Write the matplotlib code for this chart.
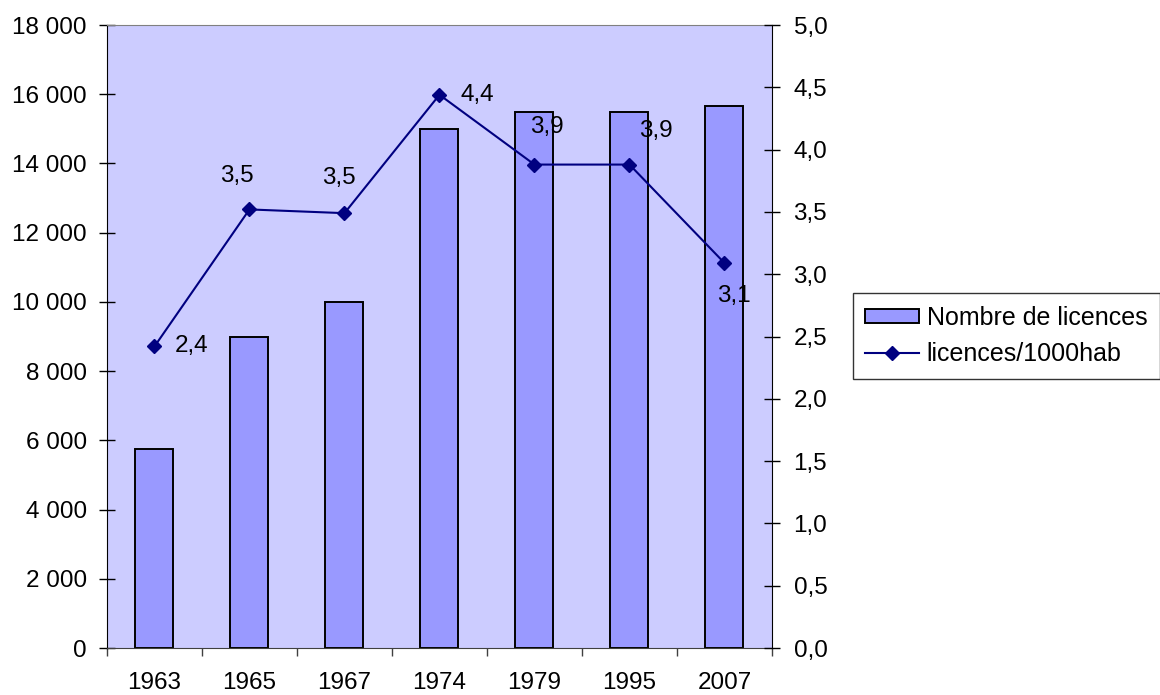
import numpy as np
import matplotlib.pyplot as plt
from matplotlib.ticker import FuncFormatter, FixedLocator

plt.rcParams['font.family'] = ['Liberation Sans', 'DejaVu Sans']

# Licences data per year
years = ['1963', '1965', '1967', '1974', '1979', '1995', '2007']
licences = [5750, 9000, 10000, 15000, 15500, 15500, 15650]
per_1000 = [2.42, 3.52, 3.49, 4.44, 3.88, 3.88, 3.09]
per_1000_labels = ['2,4', '3,5', '3,5', '4,4', '3,9', '3,9', '3,1']
# label offsets in points (dx, dy) relative to each marker
label_offsets = [(27, 0), (-9, 24), (-4, 25), (27, 0), (9, 27), (19, 24), (7, -24)]

FS = 17.5

fig = plt.figure(figsize=(11.6, 6.95), dpi=100)
ax = fig.add_axes([0.0922, 0.0676, 0.5733, 0.8964])
ax.set_facecolor('#CCCCFF')

x = np.arange(len(years))
ax.bar(x, licences, width=0.4, color='#9999FF', edgecolor='black',
       linewidth=1.4, label='Nombre de licences', zorder=2)
ax.set_xlim(-0.5, len(years) - 0.5)
ax.set_ylim(0, 18000)
ax.set_yticks(np.arange(0, 18001, 2000))
ax.yaxis.set_major_formatter(FuncFormatter(lambda v, p: f'{int(v):,}'.replace(',', ' ')))

# category ticks sit between bars, labels at bar centres
ax.set_xticks(np.arange(-0.5, len(years), 1))
ax.set_xticklabels([])
ax.xaxis.set_minor_locator(FixedLocator(x))
ax.set_xticklabels(years, minor=True)
ax.tick_params(axis='x', which='major', direction='out', length=5.5, width=1, color='#404040')
ax.tick_params(axis='x', which='minor', length=0, pad=17, labelsize=FS)
ax.tick_params(axis='y', direction='inout', length=11, width=1, labelsize=FS, pad=9)

ax.spines['left'].set_color('black')
ax.spines['bottom'].set_color('#404040')
ax.spines['top'].set_color('#808080')
ax.spines['right'].set_visible(False)

ax2 = ax.twinx()
ax2.plot(x, per_1000, color='#000080', marker='D', markersize=7.5, linewidth=1.5,
         label='licences/1000hab', zorder=3)
ax2.set_ylim(0, 5.0)
ax2.set_yticks(np.arange(0, 5.01, 0.5))
ax2.yaxis.set_major_formatter(FuncFormatter(lambda v, p: f'{v:.1f}'.replace('.', ',')))
ax2.tick_params(axis='y', direction='inout', length=11, width=1, labelsize=FS, pad=10)
ax2.spines['right'].set_color('black')
for side in ['left', 'top', 'bottom']:
    ax2.spines[side].set_visible(False)

for xi, yi, lab, (dx, dy) in zip(x, per_1000, per_1000_labels, label_offsets):
    ax2.annotate(lab, (xi, yi), xytext=(dx, dy), textcoords='offset points',
                 ha='center', va='center', fontsize=FS)

h1, l1 = ax.get_legend_handles_labels()
h2, l2 = ax2.get_legend_handles_labels()
leg = fig.legend(h1 + h2, l1 + l2, loc='upper left', bbox_to_anchor=(0.7353, 0.5784),
                 fontsize=18, frameon=True, fancybox=False, edgecolor='black',
                 handlelength=2.15, handleheight=0.5, borderpad=0.5, labelspacing=0.5,
                 handletextpad=0.3, borderaxespad=0)
leg.get_frame().set_linewidth(1.0)

fig.savefig('out.png', dpi=100, facecolor='white')
